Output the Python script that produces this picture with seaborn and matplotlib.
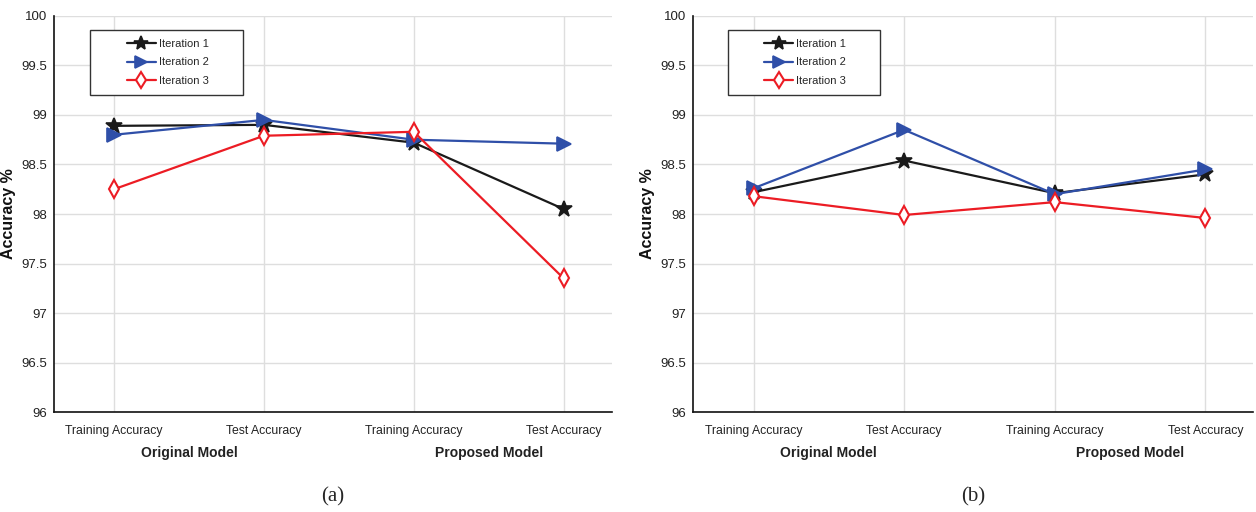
import matplotlib
matplotlib.use("Agg")
import matplotlib.pyplot as plt
import seaborn as sns
import pandas as pd
from matplotlib.patches import Rectangle

# ---------------- data ----------------
categories = ["Training Accuracy", "Test Accuracy", "Training Accuracy", "Test Accuracy"]
groups = ["Original Model", "Proposed Model"]
series_names = ["Iteration 1", "Iteration 2", "Iteration 3"]

a_iter1 = [98.89, 98.90, 98.72, 98.05]
a_iter2 = [98.80, 98.95, 98.75, 98.71]
a_iter3 = [98.25, 98.79, 98.83, 97.35]

b_iter1 = [98.22, 98.54, 98.21, 98.40]
b_iter2 = [98.26, 98.85, 98.20, 98.45]
b_iter3 = [98.18, 97.99, 98.12, 97.96]

yticks = [96, 96.5, 97, 97.5, 98, 98.5, 99, 99.5, 100]
ytick_labels = ["96", "96.5", "97", "97.5", "98", "98.5", "99", "99.5", "100"]
panel_labels = ["(a)", "(b)"]

# ---------------- style ----------------
sns.set_style("white")
plt.rcParams["font.family"] = ["Liberation Sans", "DejaVu Sans"]

colors = ["#1a1a1a", "#2f4fa8", "#ec1c24"]
markers = ["*", ">", "d"]
msizes = [12, 10, 9]
mfaces = ["#1a1a1a", "#2f4fa8", "white"]
mew = [1.2, 1.2, 1.5]

fig = plt.figure(figsize=(12.56, 5.12), dpi=100)
ax_a = fig.add_axes([0.043, 0.195, 0.444, 0.774])
ax_b = fig.add_axes([0.552, 0.195, 0.446, 0.774])

xpos = [1, 2, 3, 4]

for ax, data, lab, box in [
    (ax_a, [a_iter1, a_iter2, a_iter3], panel_labels[0], (0.065, 0.80, 0.274, 0.165)),
    (ax_b, [b_iter1, b_iter2, b_iter3], panel_labels[1], (0.062, 0.80, 0.271, 0.165)),
]:
    for i, vals in enumerate(data):
        df = pd.DataFrame({"x": xpos, "y": vals})
        sns.lineplot(data=df, x="x", y="y", ax=ax, color=colors[i], lw=1.6,
                     marker=markers[i], markersize=msizes[i],
                     markerfacecolor=mfaces[i], markeredgecolor=colors[i],
                     markeredgewidth=mew[i], label=series_names[i], zorder=3 + i)
    ax.set_xlim(0.6, 4.32)
    ax.set_ylim(96, 100)
    ax.set_xticks(xpos)
    ax.set_xticklabels(categories, fontsize=8.8, color="#222222")
    ax.set_yticks(yticks)
    ax.set_yticklabels(ytick_labels, fontsize=9.5, color="#222222")
    ax.grid(True, color="#dedede", lw=1)
    ax.set_axisbelow(True)
    for s in ["top", "right"]:
        ax.spines[s].set_visible(False)
    for s in ["left", "bottom"]:
        ax.spines[s].set_color("#111111")
        ax.spines[s].set_linewidth(1.2)
    ax.tick_params(axis="both", direction="in", length=5, width=1, color="#111111")
    ax.tick_params(axis="y", pad=5)
    ax.tick_params(axis="x", pad=9)
    ax.set_xlabel("")
    ax.set_ylabel("Accuracy %", fontsize=11.5, fontweight="bold", color="#111111")
    ax.yaxis.set_label_coords(-0.069, 0.5)
    # group labels
    ax.text(1.5, -0.103, groups[0], transform=ax.get_xaxis_transform(),
            ha="center", va="center", fontsize=10, fontweight="bold", color="#222222")
    ax.text(3.5, -0.103, groups[1], transform=ax.get_xaxis_transform(),
            ha="center", va="center", fontsize=10, fontweight="bold", color="#222222")
    ax.text(0.5, -0.213, lab, transform=ax.transAxes, ha="center", va="center",
            fontsize=15, family=["Liberation Serif", "DejaVu Serif"])
    # legend box
    bx, by, bw, bh = box
    ax.add_patch(Rectangle((bx, by), bw, bh, transform=ax.transAxes,
                           facecolor="white", edgecolor="#333333", lw=1.0,
                           zorder=9, clip_on=False))
    leg = ax.legend(loc="center", bbox_to_anchor=(bx + bw / 2 + 0.002, by + bh / 2),
                    frameon=False, borderaxespad=0,
                    fontsize=8, handlelength=2.6, handletextpad=0.25,
                    borderpad=0.3, labelspacing=0.75, markerscale=0.9)
    leg.set_zorder(10)

fig.savefig("out.png", dpi=100)
